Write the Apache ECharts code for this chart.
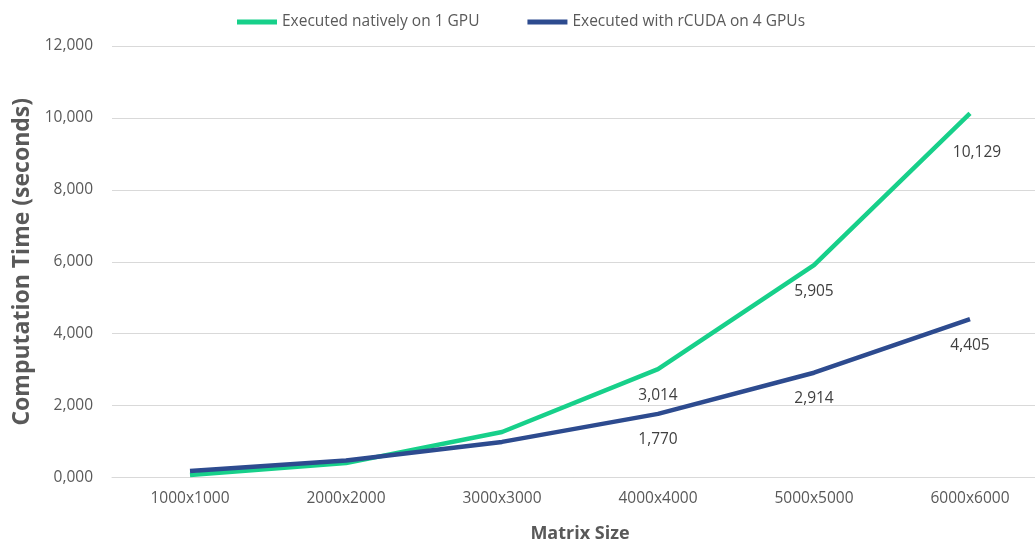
<!DOCTYPE html>
<html>
<head>
<meta charset="utf-8">
<title>Computation Time by Matrix Size</title>
<script src="https://cdn.jsdelivr.net/npm/echarts@6/dist/echarts.min.js"></script>
<style>
  html, body { margin: 0; padding: 0; background: #ffffff; }
  #chart { width: 1035px; height: 547px; }
</style>
</head>
<body>
<div id="chart"></div>
<script>
// Matrix sizes on the horizontal axis
const matrixSizes = ['1000x1000', '2000x2000', '3000x3000', '4000x4000', '5000x5000', '6000x6000'];

// Computation time in seconds
const nativeOneGpu = [70, 400, 1265, 3014, 5905, 10129];
const rcudaFourGpus = [180, 470, 990, 1770, 2914, 4405];

// Vertical axis tick labels
const yTickLabels = ['0,000', '2,000', '4,000', '6,000', '8,000', '10,000', '12,000'];

// Only the larger sizes carry value labels
const firstLabelledIndex = 3;

const seriesNames = ['Executed natively on 1 GPU', 'Executed with rCUDA on 4 GPUs'];
const GREEN = '#17D08A';
const NAVY = '#2D4B8F';
const FONT = '"Open Sans", "Noto Sans", sans-serif';

function fmt(v) {
  return v.toLocaleString('en-US');
}

function buildData(values, extraFor) {
  return values.map(function (v, i) {
    if (i < firstLabelledIndex) return { value: v };
    const lbl = { show: true, position: 'bottom', distance: 18 };
    if (extraFor && extraFor[i]) Object.assign(lbl, extraFor[i]);
    return { value: v, label: lbl };
  });
}

function lineSeries(name, values, color, extraFor, z) {
  return {
    name: name,
    type: 'line',
    data: buildData(values, extraFor),
    symbol: 'circle',
    symbolSize: 0,
    showSymbol: true,
    lineStyle: { color: color, width: 4.5 },
    itemStyle: { color: color },
    label: {
      show: false,
      color: '#404040',
      fontSize: 15.5,
      fontFamily: FONT,
      formatter: function (p) { return fmt(p.value); }
    },
    z: z
  };
}

const chart = echarts.init(document.getElementById('chart'), null, { renderer: 'canvas' });

chart.setOption({
  backgroundColor: '#ffffff',
  animation: false,
  textStyle: { fontFamily: FONT },
  legend: {
    top: 9,
    left: 232,
    itemWidth: 40,
    itemHeight: 5,
    itemGap: 48,
    icon: 'rect',
    textStyle: { color: '#595959', fontSize: 15.5, fontFamily: FONT },
    data: seriesNames
  },
  grid: {
    left: 112,
    top: 46,
    width: 936,
    height: 431.5,
    outerBoundsMode: 'none',
    containLabel: false
  },
  xAxis: {
    type: 'category',
    data: matrixSizes,
    boundaryGap: true,
    name: 'Matrix Size',
    nameLocation: 'middle',
    nameGap: 47,
    nameTextStyle: { color: '#595959', fontSize: 18, fontWeight: 'bold', fontFamily: FONT },
    axisLine: { show: true, lineStyle: { color: '#D9D9D9', width: 1 } },
    axisTick: { show: false },
    axisLabel: { color: '#595959', fontSize: 15.5, margin: 13, fontFamily: FONT }
  },
  yAxis: {
    type: 'value',
    min: 0,
    max: 12000,
    interval: 2000,
    name: 'Computation Time (seconds)',
    nameLocation: 'middle',
    nameGap: 77,
    nameTextStyle: { color: '#595959', fontSize: 23, fontWeight: 'bold', fontFamily: FONT },
    axisLine: { show: false },
    axisTick: { show: false },
    splitLine: { show: true, lineStyle: { color: '#D9D9D9', width: 1 } },
    axisLabel: {
      color: '#595959',
      fontSize: 15.5,
      margin: 19,
      fontFamily: FONT,
      formatter: function (v) { return yTickLabels[Math.round(v / 2000)]; }
    }
  },
  series: [
    lineSeries(seriesNames[0], nativeOneGpu, GREEN, { 5: { distance: 31, offset: [7, 0] } }, 2),
    lineSeries(seriesNames[1], rcudaFourGpus, NAVY, null, 3)
  ]
});
</script>
</body>
</html>
